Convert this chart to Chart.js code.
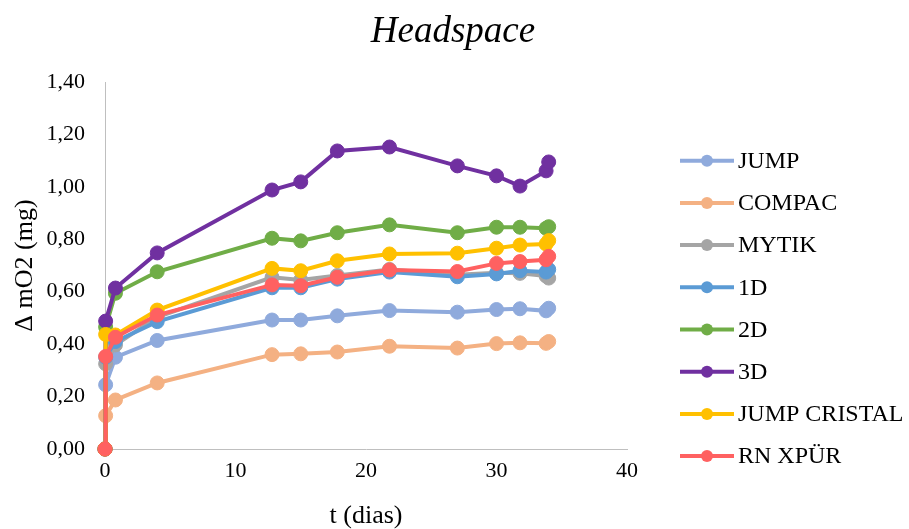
<!DOCTYPE html>
<html>
<head>
<meta charset="utf-8">
<script src="https://cdn.jsdelivr.net/npm/chart.js@4/dist/chart.umd.min.js"></script>
<style>
  html, body { margin: 0; padding: 0; background: #fff; }
  #wrap { width: 909px; height: 529px; }
</style>
</head>
<body>
<div id="wrap"><canvas id="c" width="909" height="529"></canvas></div>
<script>
// Sampling times (days)
const tDias = [0, 0.05, 0.8, 4, 12.8, 15, 17.8, 21.8, 27, 30, 31.8, 33.8, 34];

// Oxygen uptake in the headspace, Δ mO2 (mg)
const jump        = [0, 0.245, 0.350, 0.414, 0.492, 0.492, 0.508, 0.528, 0.522, 0.532, 0.535, 0.527, 0.537];
const compac      = [0, 0.127, 0.187, 0.252, 0.360, 0.363, 0.370, 0.392, 0.385, 0.402, 0.405, 0.403, 0.410];
const mytik       = [0, 0.325, 0.397, 0.503, 0.655, 0.645, 0.662, 0.685, 0.665, 0.672, 0.670, 0.660, 0.652];
const d1          = [0, 0.350, 0.410, 0.486, 0.615, 0.615, 0.648, 0.675, 0.657, 0.668, 0.680, 0.675, 0.685];
const d2          = [0, 0.465, 0.594, 0.676, 0.804, 0.794, 0.825, 0.855, 0.825, 0.846, 0.846, 0.842, 0.848];
const d3          = [0, 0.488, 0.614, 0.748, 0.988, 1.019, 1.137, 1.152, 1.080, 1.042, 1.003, 1.061, 1.095];
const jumpCristal = [0, 0.437, 0.435, 0.530, 0.689, 0.680, 0.718, 0.744, 0.747, 0.766, 0.778, 0.782, 0.795];
const rnXpur      = [0, 0.353, 0.426, 0.511, 0.626, 0.623, 0.655, 0.683, 0.677, 0.708, 0.715, 0.722, 0.735];

const seriesNames = ['JUMP', 'COMPAC', 'MYTIK', '1D', '2D', '3D', 'JUMP CRISTAL', 'RN XPÜR'];
const seriesValues = [jump, compac, mytik, d1, d2, d3, jumpCristal, rnXpur];
const seriesColors = ['#8FAADC', '#F4B183', '#A5A5A5', '#5B9BD5', '#70AD47', '#7030A0', '#FFC000', '#FF6161'];

const yTicks = [0, 0.2, 0.4, 0.6, 0.8, 1.0, 1.2, 1.4];
const xTicks = [0, 10, 20, 30, 40];

const SERIF = '"Liberation Serif", "Times New Roman", serif';

const datasets = seriesNames.map((name, i) => ({
  label: name,
  data: tDias.map((t, k) => ({ x: t, y: seriesValues[i][k] })),
  borderColor: seriesColors[i],
  backgroundColor: seriesColors[i],
  pointBackgroundColor: seriesColors[i],
  pointBorderColor: seriesColors[i],
  borderWidth: 4,
  pointRadius: 7,
  pointBorderWidth: 1,
  tension: 0,
  clip: false,
  order: seriesNames.length - 1 - i
}));

// Chart title and the legend column on the right
const decorations = {
  id: 'decorations',
  afterDraw(chart) {
    const ctx = chart.ctx;
    ctx.save();
    ctx.fillStyle = '#000';
    ctx.font = 'italic 37px ' + SERIF;
    ctx.textAlign = 'center';
    ctx.textBaseline = 'alphabetic';
    ctx.fillText('Headspace', 453, 42);

    ctx.font = '24px ' + SERIF;
    ctx.textAlign = 'left';
    ctx.textBaseline = 'middle';
    chart.data.datasets.forEach((ds, i) => {
      const y = 160.7 + i * 42.2;
      ctx.strokeStyle = ds.borderColor;
      ctx.lineWidth = 4;
      ctx.beginPath();
      ctx.moveTo(680, y);
      ctx.lineTo(734, y);
      ctx.stroke();
      ctx.fillStyle = ds.borderColor;
      ctx.beginPath();
      ctx.arc(707, y, 6, 0, Math.PI * 2);
      ctx.fill();
      ctx.fillStyle = '#000';
      ctx.fillText(ds.label, 738, y + 1);
    });
    ctx.restore();
  }
};

new Chart(document.getElementById('c'), {
  type: 'line',
  data: { datasets },
  options: {
    responsive: false,
    animation: false,
    layout: { padding: { left: 0, right: 282, top: 82, bottom: 0 } },
    plugins: {
      legend: { display: false },
      title: { display: false },
      tooltip: { enabled: false }
    },
    scales: {
      x: {
        type: 'linear',
        min: 0,
        max: 40,
        afterBuildTicks: (axis) => { axis.ticks = xTicks.map(v => ({ value: v })); },
        afterFit: (axis) => { axis.height = 80; },
        grid: { display: false, drawTicks: false },
        border: { display: true, color: '#BFBFBF', width: 1 },
        ticks: { color: '#000', font: { family: SERIF, size: 22 }, padding: 9 },
        title: {
          display: true,
          text: 't (dias)',
          color: '#000',
          font: { family: SERIF, size: 26, lineHeight: 1 },
          padding: { top: 0, bottom: 0 }
        }
      },
      y: {
        min: 0,
        max: 1.4,
        afterBuildTicks: (axis) => { axis.ticks = yTicks.map(v => ({ value: v })); },
        afterFit: (axis) => { axis.width = 105; },
        grid: { display: false, drawTicks: false },
        border: { display: true, color: '#BFBFBF', width: 1 },
        ticks: {
          color: '#000',
          font: { family: SERIF, size: 22 },
          padding: 20,
          callback: (v) => Number(v).toFixed(2).replace('.', ',')
        },
        title: {
          display: true,
          text: 'Δ mO2 (mg)',
          color: '#000',
          font: { family: SERIF, size: 26, lineHeight: 1 },
          padding: { top: 12, bottom: 0 }
        }
      }
    }
  },
  plugins: [decorations]
});
</script>
</body>
</html>
